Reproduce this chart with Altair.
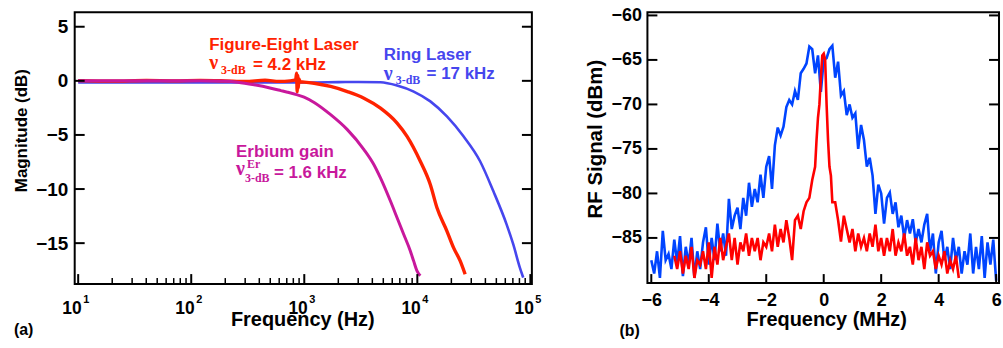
import numpy as np
import pandas as pd
import altair as alt

SANS = "Liberation Sans"
SERIF = "Liberation Serif"

# ---------------- Panel (a): modulation transfer functions ----------------
ring_f = [10, 30, 100, 300, 1000, 2000, 3000, 4720, 6620, 9290, 13030, 18270,
          25600, 35900, 47000, 61600, 70500, 80700, 86400]
ring_db = [-0.15, -0.15, -0.15, -0.15, -0.15, -0.12, -0.1, -0.13, -0.43, -0.99, -1.9,
           -3.29, -5.13, -7.43, -10.19, -13.26, -15.1, -17.26, -18.18]

fig8_f = [10, 20, 40, 70, 120, 200, 300, 450, 600, 750, 840, 855, 865, 875, 885, 895,
          920, 1000, 1222, 1710, 2403, 3370, 4720, 6620, 8110, 10620, 13020, 14920,
          18270, 20900, 23930, 26480]
fig8_db = [0.02, -0.03, 0.03, 0.0, 0.04, 0.0, -0.05, 0.05, -0.05, 0.0, 0.1, 0.7, -1.0,
           0.5, -0.7, 0.2, -0.1, -0.12, -0.22, -0.52, -0.99, -1.6, -2.52, -3.9, -5.13,
           -7.43, -9.58, -11.73, -13.88, -15.41, -16.64, -17.87]

erb_f = [10, 30, 100, 184, 258, 361, 507, 621, 711, 871, 996, 1222, 1710, 2403, 3370,
         4120, 4720, 5780, 6620, 7570, 8670, 9270, 9930, 10620]
erb_db = [0.0, 0.0, 0.0, -0.02, -0.13, -0.37, -0.68, -0.9, -1.05, -1.3, -1.5, -2.0,
          -3.13, -4.51, -6.35, -7.73, -8.97, -11.11, -12.65, -14.18, -15.72, -16.64,
          -17.56, -18.02]

a_yticks = [5, 0, -5, -10, -15]
a_decades = [10, 100, 1000, 10000, 100000]
a_exponents = ["1", "2", "3", "4", "5"]
a_minor = [m * 10 ** k for k in range(1, 5) for m in range(2, 10)]

# annotation anchors (frequency Hz, dB) of the first text line
ann_fig8 = (144.1, 2.88)
ann_ring = (5047.0, 1.96)
ann_erb = (249.2, -7.06)

# ---------------- Panel (b): RF spectra ----------------
b_blue_f = np.round(np.arange(-6.0, 6.0001, 0.1), 2)
b_blue_db = [
    -87.5, -89.0, -86.5, -89.5, -84.2, -87.5, -86.8, -88.5, -85.2, -87.8,
    -84.8, -89.3, -86.0, -88.0, -85.0, -89.5, -86.5, -88.5, -85.5, -83.8,
    -88.0, -85.0, -87.5, -83.4, -86.5, -84.5, -87.0, -80.6, -84.0, -82.5,
    -81.6, -84.0, -80.5, -82.5, -78.8, -81.5, -79.5, -81.0, -77.9, -80.5,
    -77.0, -75.8, -79.5, -74.6, -72.6, -73.5, -72.5, -70.3, -69.5, -70.0,
    -68.5, -69.5, -66.5, -66.0, -65.4, -63.5, -63.8, -66.5, -64.5, -68.6,
    -65.0, -64.8, -63.8, -63.4, -67.0, -65.2, -69.0, -68.5, -71.2, -70.0,
    -71.5, -71.0, -75.0, -72.3, -74.0, -77.0, -76.0, -78.0, -82.3, -79.0,
    -80.0, -83.4, -80.5, -79.9, -82.3, -81.0, -83.8, -82.5, -85.0, -83.0,
    -84.5, -82.9, -85.5, -84.0, -85.5, -83.5, -82.3, -86.5, -84.5, -89.0,
    -85.5, -84.2, -87.5, -86.0, -88.5, -85.0, -87.5, -86.0, -89.0, -86.5,
    -88.0, -84.5, -89.0, -86.0, -88.5, -84.8, -89.5, -85.5, -88.0, -85.2,
    -89.8]

b_red_f = np.round(np.concatenate([
    np.arange(-5.2, -0.35, 0.1),
    [-0.3, -0.25, -0.2, -0.15, -0.1, -0.05, 0.0, 0.05, 0.1, 0.15, 0.2, 0.25, 0.3],
    np.arange(0.4, 4.7001, 0.1)]), 2)
b_red_db = [
    -87.0, -88.5, -86.5, -89.0, -87.0, -88.5, -86.0, -89.5, -87.5, -88.0,
    -86.5, -88.5, -85.5, -89.5, -86.0, -88.0, -85.0, -87.5, -86.0, -84.5,
    -87.5, -85.0, -88.0, -85.5, -86.5, -84.5, -87.0, -85.0, -86.5, -85.0,
    -87.5, -85.5, -86.0, -84.5, -86.5, -83.5, -86.0, -84.0, -85.5, -83.0,
    -85.0, -87.5, -83.0, -82.5, -84.0, -82.0, -81.0, -80.5, -78.5,
    -77.0, -74.0, -71.5, -70.0, -67.0, -64.5, -64.3, -65.0, -70.0, -74.0,
    -77.0, -78.0, -81.0,
    -81.0, -83.0, -85.4, -82.5, -84.0, -85.5, -84.0, -86.5, -84.5, -86.0,
    -85.0, -86.5, -84.5, -86.0, -83.5, -86.5, -85.0, -87.0, -85.0, -86.5,
    -84.0, -87.0, -85.5, -86.5, -84.5, -87.0, -86.0, -88.0, -85.0, -87.5,
    -86.0, -88.5, -85.5, -87.0, -86.5, -88.5, -87.0, -88.0, -86.5, -89.0,
    -87.5, -88.5, -87.0, -89.5]

b_yticks = [-60, -65, -70, -75, -80, -85]
b_xticks = [-6, -4, -2, 0, 2, 4, 6]

# ---------------- colours ----------------
C_RING = "#4646EE"
C_FIG8 = "#FF2200"
C_ERB = "#C8189C"
C_BBLUE = "#0044FF"
C_BRED = "#FF0000"

W1, H1 = 459, 273
W2, H2 = 353, 272

# ================= Panel (a) =================
XA = alt.X("f:Q",
           scale=alt.Scale(type="log", domain=[9.316, 103100], nice=False),
           axis=alt.Axis(labels=False, title="Frequency (Hz)", titleFontSize=20,
                         titleX=228.5, titleY=42, titleBaseline="alphabetic",
                         titleAlign="center"))
YA = alt.Y("db:Q",
           scale=alt.Scale(domain=[-18.78, 6.35], nice=False, zero=False),
           axis=alt.Axis(values=a_yticks, title="Magnitude (dB)", titleFontSize=17,
                         labelFontSize=19, labelPadding=7, titleX=-48, titleY=118.5,
                         titleAngle=270, titleBaseline="alphabetic",
                         titleAlign="center"))


def curve(fs, dbs, color, width):
    df = pd.DataFrame({"f": fs, "db": dbs})
    return alt.Chart(df).mark_line(color=color, strokeWidth=width,
                                   interpolate="monotone").encode(x=XA, y=YA)


def atext(anchor, text, color, size, font, dx=0, dy=0):
    df = pd.DataFrame({"f": [anchor[0]], "db": [anchor[1]], "t": [text]})
    return alt.Chart(df).mark_text(align="left", baseline="alphabetic", dx=dx, dy=dy,
                                   fontSize=size, font=font, fontWeight="bold",
                                   color=color).encode(x=XA, y=YA, text="t:N")


ytick_a = pd.DataFrame({"db": a_yticks})
dec_a = pd.DataFrame({"f": a_decades, "b": ["10"] * len(a_decades), "e": a_exponents})
minor_a = pd.DataFrame({"f": a_minor})

layers_a = [
    curve(ring_f, ring_db, C_RING, 2.6),
    curve(fig8_f, fig8_db, C_FIG8, 3.4),
    curve(erb_f, erb_db, C_ERB, 3.0),
    alt.Chart(ytick_a).mark_rule(color="black", strokeWidth=2).encode(
        y=YA, x=alt.value(0), x2=alt.value(10)),
    alt.Chart(ytick_a).mark_rule(color="black", strokeWidth=2).encode(
        y=YA, x=alt.value(W1 - 10), x2=alt.value(W1)),
    alt.Chart(dec_a).mark_rule(color="black", strokeWidth=2).encode(
        x=XA, y=alt.value(H1), y2=alt.value(H1 - 10)),
    alt.Chart(minor_a).mark_rule(color="black", strokeWidth=1.5).encode(
        x=XA, y=alt.value(H1), y2=alt.value(H1 - 6)),
    alt.Chart(dec_a).mark_text(align="right", baseline="alphabetic", dx=3.5,
                               fontSize=17.5, font=SANS, fontWeight="bold",
                               color="black").encode(
        x=XA, y=alt.value(H1 + 30), text="b:N"),
    alt.Chart(dec_a).mark_text(align="left", baseline="alphabetic", dx=5,
                               fontSize=11, font=SANS, fontWeight="bold",
                               color="black").encode(
        x=XA, y=alt.value(H1 + 19), text="e:N"),
    alt.Chart(pd.DataFrame({"t": ["(a)"]})).mark_text(
        align="left", baseline="alphabetic", fontSize=16, font=SANS,
        fontWeight="bold", color="black").encode(
        x=alt.value(-61), y=alt.value(324), text="t:N"),
    # Figure-eight annotation
    atext(ann_fig8, "Figure-Eight Laser", C_FIG8, 17, SANS),
    atext(ann_fig8, "ν", C_FIG8, 20, SERIF, 0, 19),
    atext(ann_fig8, "3-dB", C_FIG8, 12, SERIF, 12, 24),
    atext(ann_fig8, "= 4.2 kHz", C_FIG8, 17, SANS, 44, 20),
    # Ring annotation
    atext(ann_ring, "Ring Laser", C_RING, 17, SANS),
    atext(ann_ring, "ν", C_RING, 20, SERIF, 0, 20),
    atext(ann_ring, "3-dB", C_RING, 12, SERIF, 12, 24),
    atext(ann_ring, "= 17 kHz", C_RING, 17, SANS, 43, 19.5),
    # Erbium annotation
    atext(ann_erb, "Erbium gain", C_ERB, 17, SANS),
    atext(ann_erb, "ν", C_ERB, 20, SERIF, 0, 18),
    atext(ann_erb, "Er", C_ERB, 12, SERIF, 11, 10.5),
    atext(ann_erb, "3-dB", C_ERB, 12, SERIF, 9, 25),
    atext(ann_erb, "= 1.6 kHz", C_ERB, 17, SANS, 38, 20.5),
]
chart_a = alt.layer(*layers_a).properties(width=W1, height=H1)

# ================= Panel (b) =================
XB = alt.X("f:Q",
           scale=alt.Scale(domain=[-6.135, 6.10], nice=False, zero=False),
           axis=alt.Axis(values=b_xticks, title="Frequency (MHz)", titleFontSize=20,
                         labelFontSize=18, labelPadding=9, labelFlush=False,
                         labelOverlap=False, titleX=179.5, titleY=43,
                         titleBaseline="alphabetic", titleAlign="center"))
YB = alt.Y("db:Q",
           scale=alt.Scale(domain=[-90.07, -59.63], nice=False, zero=False),
           axis=alt.Axis(values=b_yticks, title="RF Signal (dBm)", titleFontSize=20.5,
                         labelFontSize=18, labelPadding=6, titleX=-46, titleY=127,
                         titleAngle=270, titleBaseline="alphabetic",
                         titleAlign="center"))

ytick_b = pd.DataFrame({"db": b_yticks})
xtick_b = pd.DataFrame({"f": b_xticks})

layers_b = [
    alt.Chart(pd.DataFrame({"f": b_blue_f, "db": b_blue_db})).mark_line(
        color=C_BBLUE, strokeWidth=2.6).encode(x=XB, y=YB),
    alt.Chart(pd.DataFrame({"f": b_red_f, "db": b_red_db})).mark_line(
        color=C_BRED, strokeWidth=2.6).encode(x=XB, y=YB),
    alt.Chart(ytick_b).mark_rule(color="black", strokeWidth=2).encode(
        y=YB, x=alt.value(0), x2=alt.value(10)),
    alt.Chart(ytick_b).mark_rule(color="black", strokeWidth=2).encode(
        y=YB, x=alt.value(W2 - 10), x2=alt.value(W2)),
    alt.Chart(xtick_b).mark_rule(color="black", strokeWidth=2).encode(
        x=XB, y=alt.value(H2), y2=alt.value(H2 - 9)),
    alt.Chart(pd.DataFrame({"t": ["(b)"]})).mark_text(
        align="left", baseline="alphabetic", fontSize=16, font=SANS,
        fontWeight="bold", color="black").encode(
        x=alt.value(-28), y=alt.value(325), text="t:N"),
]
chart_b = alt.layer(*layers_b).properties(width=W2, height=H2)

chart = alt.hconcat(chart_a, chart_b, spacing=116, bounds="flush").properties(
    padding={"left": 12, "top": 4.5, "right": 0, "bottom": 0}
).configure_view(
    stroke="black", strokeWidth=2
).configure_axis(
    domain=False, ticks=False, tickSize=0, grid=False,
    labelFont=SANS, labelFontWeight="bold", labelColor="black",
    titleFont=SANS, titleFontWeight="bold", titleColor="black"
)

chart.save("out.html", embed_options={"renderer": "svg", "actions": False})
